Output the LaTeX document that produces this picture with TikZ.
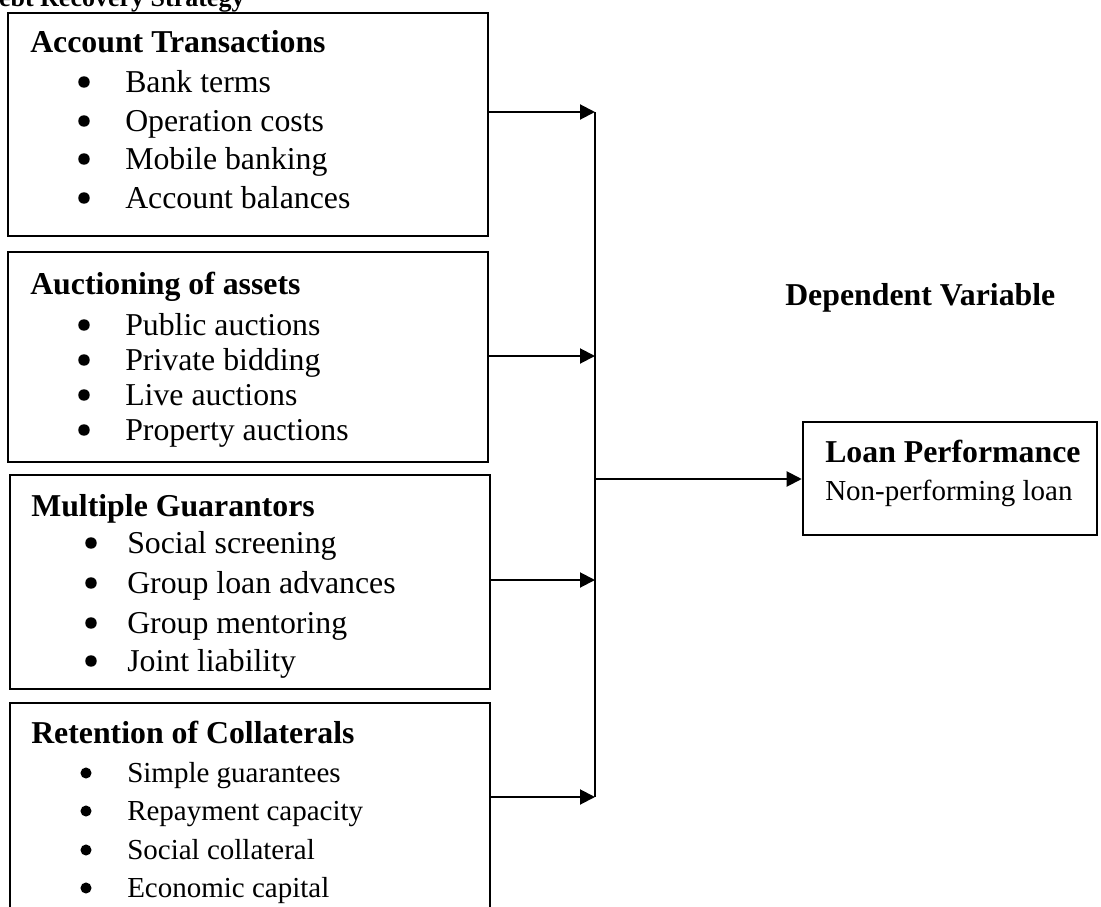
\documentclass[tikz,border=0pt]{standalone}
\usepackage{fontspec}
\setmainfont{Liberation Serif}
\usetikzlibrary{arrows.meta}
\begin{document}
\begin{tikzpicture}[x=0.75pt,y=-0.75pt,
 box/.style={draw,line width=1.9pt,rectangle,inner sep=0pt},
 head/.style={anchor=base west,inner sep=0pt,font=\fontsize{23.85}{28}\selectfont\bfseries},
 item/.style={anchor=base west,inner sep=0pt,font=\fontsize{23.85}{28}\selectfont},
 itemsm/.style={anchor=base west,inner sep=0pt,font=\fontsize{21.75}{26}\selectfont},
 bul/.style={circle,fill,inner sep=0pt,minimum size=8.6pt},
 bulsm/.style={circle,fill,inner sep=0pt,minimum size=8.3pt},
 arr/.style={line width=1.5pt,-{Triangle[length=11.25pt,width=11.25pt]}},
 conn/.style={line width=1.5pt}]
\useasboundingbox (0,0) rectangle (1101,907);
\clip (0,0) rectangle (1101,907);

% title (cut off at top)
\node[anchor=base west,inner sep=0pt,font=\fontsize{19.5}{22}\selectfont\bfseries] (title) at (-20,6) {Debt Recovery Strategy};

% boxes
\node[box,minimum width=360pt,minimum height=167.25pt] (b1) at (248,124.5) {};
\node[box,minimum width=360pt,minimum height=157.5pt] (b2) at (248,357) {};
\node[box,minimum width=360pt,minimum height=160.5pt] (b3) at (250,582) {};
\node[box,minimum width=360pt,minimum height=165pt] (b4) at (250,813) {};
\node[box,minimum width=220.5pt,minimum height=84.75pt] (lp) at (950,478.5) {};

% box 1
\node[head] (h1) at (30,52) {Account Transactions};
\foreach \t/\y [count=\i] in {Bank terms/92,Operation costs/131,Mobile banking/169,Account balances/208}{
  \node[bul] (p1b\i) at (84,\y-10) {};
  \node[item] (p1t\i) at (125,\y) {\t};
}
% box 2
\node[head] (h2) at (30,294) {Auctioning of assets};
\foreach \t/\y [count=\i] in {Public auctions/335,Private bidding/370,Live auctions/405,Property auctions/440}{
  \node[bul] (p2b\i) at (84,\y-10) {};
  \node[item] (p2t\i) at (125,\y) {\t};
}
% box 3
\node[head] (h3) at (31,516) {Multiple Guarantors};
\foreach \t/\y [count=\i] in {Social screening/553,Group loan advances/593,Group mentoring/633,Joint liability/671}{
  \node[bul] (p3b\i) at (91,\y-10) {};
  \node[item] (p3t\i) at (127,\y) {\t};
}
% box 4
\node[head] (h4) at (31,743) {Retention of Collaterals};
\foreach \t/\y [count=\i] in {Simple guarantees/782,Repayment capacity/820,Social collateral/859,Economic capital/897}{
  \node[bulsm] (p4b\i) at (86,\y-9) {};
  \node[itemsm] (p4t\i) at (127,\y) {\t};
}

% dependent side
\node[head] (dv) at (785,305) {Dependent Variable};
\node[head] (lph) at (825,462) {Loan Performance};
\node[itemsm] (lpt) at (825,500) {Non-performing loan};

% connectors
\coordinate (j1) at (595,112);
\coordinate (j2) at (595,356);
\coordinate (j3) at (595,580);
\coordinate (j4) at (595,797);
\coordinate (jm) at (595,479);
\draw[arr] (b1.east |- j1) -- (j1);
\draw[arr] (b2.east |- j2) -- (j2);
\draw[arr] (b3.east |- j3) -- (j3);
\draw[arr] (b4.east |- j4) -- (j4);
\draw[conn] (j1) -- (j4);
\draw[arr] (jm) -- (lp.west |- jm);
\end{tikzpicture}
\end{document}
